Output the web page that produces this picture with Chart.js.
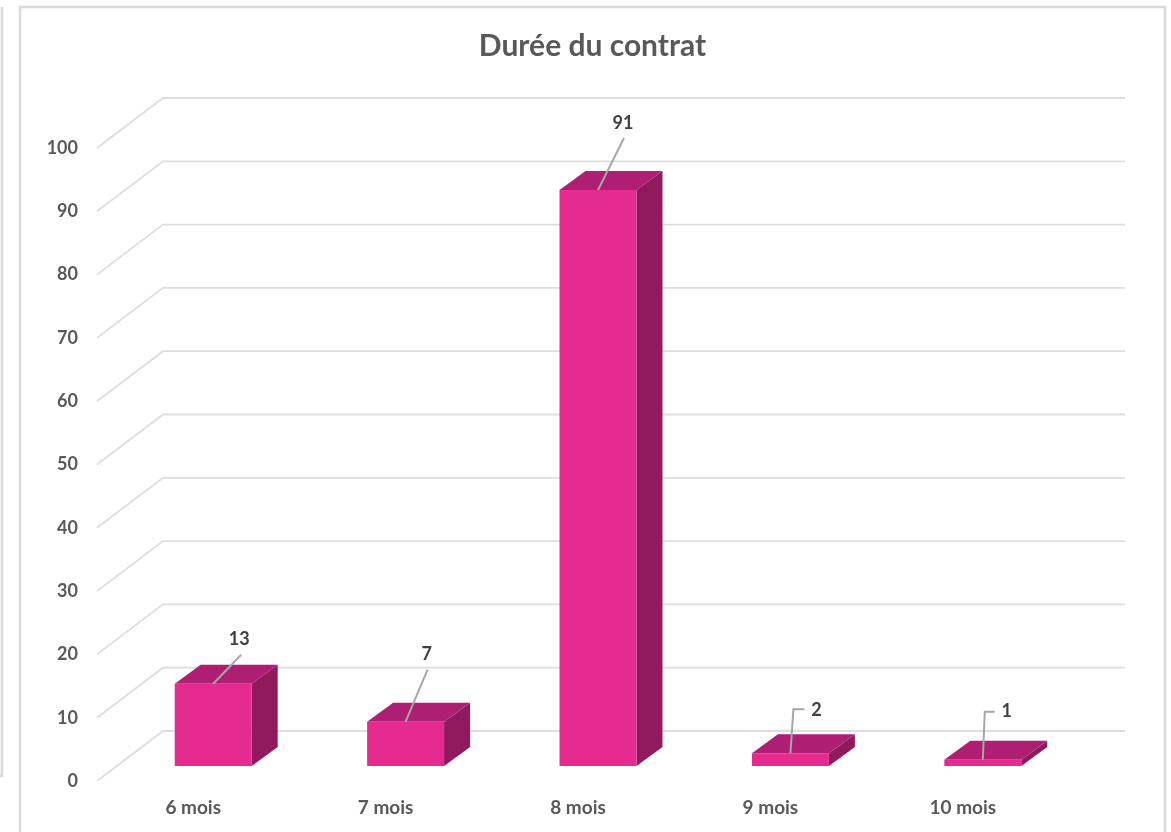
<!DOCTYPE html>
<html lang="fr">
<head>
<meta charset="utf-8">
<title>Durée du contrat</title>
<script src="https://cdn.jsdelivr.net/npm/chart.js@4"></script>
<style>
html,body{margin:0;padding:0;background:#fff;overflow:hidden}
#wrap{position:absolute;left:0;top:0;width:1171px;height:832px}
</style>
</head>
<body>
<div id="wrap"><canvas id="c" width="1171" height="832"></canvas></div>
<script>
const chartTitle = "Durée du contrat";
const categories = ["6 mois", "7 mois", "8 mois", "9 mois", "10 mois"];
const seriesName = "Durée du contrat";
const seriesValues = [13, 7, 91, 2, 1];

const FONT = 'Lato, "Open Sans", sans-serif';
const WALL = {dx: 66, dy: -50};       // depth of the back wall
const BAR_SHIFT = {dx: 20, dy: -15};  // bars stand in the middle of the floor
const BAR_DEPTH = {dx: 26, dy: -19};
const COLORS = {front: "#E52B8F", top: "#AE1F74", side: "#911A5C", grid: "#DEDEDE",
                frame: "#DADADA", text: "#595959", label: "#404040", leader: "#A6A6A6"};
// leader path + label anchor, relative to the top-front centre of each bar
const LEADERS = [
  {path: [[28, -29]], label: [26, -45]},
  {path: [[22, -52]], label: [21, -68]},
  {path: [[26, -52]], label: [25, -67]},
  {path: [[3, -44], [14, -44]], label: [26, -43]},
  {path: [[2, -48], [12, -48]], label: [24, -48]}
];

const look3d = {
  id: "look3d",
  afterLayout(chart) {
    // Title is centred on the frame, not on the plot area
    chart.titleBlock.left = 20;
    chart.titleBlock.right = 1165;
  },
  beforeDraw(chart) {
    const c = chart.ctx;
    c.save();
    c.fillStyle = "#fff";
    c.fillRect(0, 0, chart.width, chart.height);
    c.strokeStyle = COLORS.frame;
    c.lineWidth = 2.5;
    c.beginPath();
    c.moveTo(20, 832); c.lineTo(20, 7); c.lineTo(1165, 7); c.lineTo(1165, 832);
    c.moveTo(2, 7); c.lineTo(2, 776); c.lineTo(0, 776);
    c.stroke();
    c.restore();
  },
  beforeDatasetsDraw(chart) {
    const c = chart.ctx, y = chart.scales.y, a = chart.chartArea;
    c.save();
    c.strokeStyle = COLORS.grid;
    c.lineWidth = 1.8;
    y.ticks.forEach(t => {
      const py = y.getPixelForValue(t.value);
      c.beginPath();
      c.moveTo(a.left, py);
      c.lineTo(a.left + WALL.dx, py + WALL.dy);
      c.lineTo(a.right + WALL.dx, py + WALL.dy);
      c.stroke();
    });
    c.restore();
  },
  beforeDatasetDraw(chart, args) {
    const c = chart.ctx;
    c.save();
    c.translate(BAR_SHIFT.dx, BAR_SHIFT.dy);
    args.meta.data.forEach(el => {
      const {x, y, base, width} = el.getProps(["x", "y", "base", "width"], true);
      const l = x - width / 2, r = x + width / 2, d = BAR_DEPTH;
      c.fillStyle = COLORS.side;
      c.beginPath();
      c.moveTo(r, y); c.lineTo(r + d.dx, y + d.dy); c.lineTo(r + d.dx, base + d.dy); c.lineTo(r, base);
      c.closePath(); c.fill();
      c.fillStyle = COLORS.top;
      c.beginPath();
      c.moveTo(l, y); c.lineTo(l + d.dx, y + d.dy); c.lineTo(r + d.dx, y + d.dy); c.lineTo(r, y);
      c.closePath(); c.fill();
    });
  },
  afterDatasetDraw(chart) {
    chart.ctx.restore();
  },
  afterDatasetsDraw(chart) {
    const c = chart.ctx, meta = chart.getDatasetMeta(0);
    c.save();
    meta.data.forEach((el, i) => {
      const x0 = el.x + BAR_SHIFT.dx, y0 = el.y + BAR_SHIFT.dy, L = LEADERS[i];
      c.strokeStyle = COLORS.leader;
      c.lineWidth = 2;
      c.beginPath();
      c.moveTo(x0, y0);
      L.path.forEach(p => c.lineTo(x0 + p[0], y0 + p[1]));
      c.stroke();
      c.fillStyle = COLORS.label;
      c.font = "bold 18px " + FONT;
      c.textAlign = "center";
      c.textBaseline = "middle";
      c.fillText(String(seriesValues[i]), x0 + L.label[0], y0 + L.label[1]);
    });
    c.restore();
  }
};

new Chart(document.getElementById("c"), {
  type: "bar",
  data: {
    labels: categories,
    datasets: [{
      label: seriesName,
      data: seriesValues,
      backgroundColor: COLORS.front,
      borderWidth: 0,
      categoryPercentage: 1,
      barPercentage: 0.4,
      clip: false
    }]
  },
  plugins: [look3d],
  options: {
    responsive: false,
    animation: false,
    layout: {padding: {left: 0, right: 112, top: 0, bottom: 0}},
    plugins: {
      legend: {display: false},
      tooltip: {enabled: false},
      title: {
        display: true,
        text: chartTitle,
        color: COLORS.text,
        font: {family: FONT, size: 30, weight: "bold", lineHeight: 1.2},
        padding: {top: 28, bottom: 84}
      }
    },
    scales: {
      x: {
        grid: {display: false},
        border: {display: false},
        afterFit(s) { s.height = 51; },
        ticks: {color: COLORS.text, font: {family: FONT, size: 19, weight: "bold"}, padding: 7, maxRotation: 0}
      },
      y: {
        min: 0,
        max: 100,
        grid: {display: false, drawTicks: false},
        border: {display: false},
        afterFit(s) { s.width = 97; },
        ticks: {stepSize: 10, color: COLORS.text, font: {family: FONT, size: 18, weight: "bold"}, padding: 19}
      }
    }
  }
});
</script>
</body>
</html>
